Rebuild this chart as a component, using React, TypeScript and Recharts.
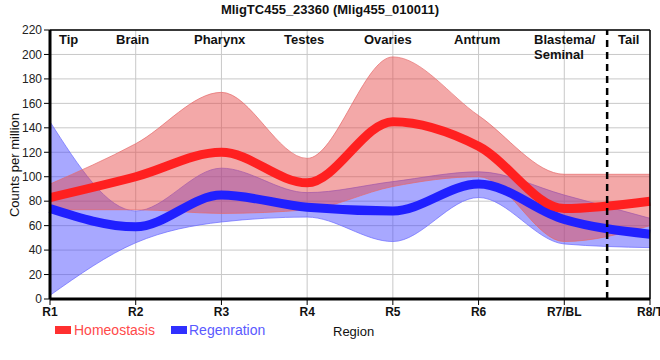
import React from "react";
import {
  ComposedChart,
  Area,
  Line,
  XAxis,
  YAxis,
  CartesianGrid,
  ReferenceLine,
} from "recharts";

// regions along the body axis
const regions = ["R1", "R2", "R3", "R4", "R5", "R6", "R7/BL", "R8/T"];
const yTicks = [0, 20, 40, 60, 80, 100, 120, 140, 160, 180, 200, 220];

// Homeostasis: mean and min/max envelope
const homeoMean = [83, 100, 120, 95, 145, 125, 74, 80];
const homeoHigh = [94, 127, 169, 115, 198, 150, 102, 102];
const homeoLow = [73, 73, 70, 73, 92, 100, 47, 60];

// Regeneration: mean and min/max envelope
const regenMean = [74, 59, 85, 75, 72, 94, 65, 53];
const regenHigh = [145, 72, 107, 87, 96, 104, 85, 66];
const regenLow = [3, 46, 63, 67, 47, 83, 45, 42];

const FONT = '"Liberation Sans", Arial, sans-serif';

const label = (text: string, left: number, top: number, extra: React.CSSProperties = {}) => (
  <div
    style={{
      position: "absolute",
      left,
      top,
      fontSize: 13,
      fontWeight: "bold",
      lineHeight: "15px",
      whiteSpace: "nowrap",
      color: "#111",
      ...extra,
    }}
  >
    {text}
  </div>
);

const App: React.FC = () => {
  const data = regions.map((r, i) => ({
    x: i,
    name: r,
    hm: homeoMean[i],
    hr: [homeoLow[i], homeoHigh[i]],
    rm: regenMean[i],
    rr: [regenLow[i], regenHigh[i]],
  }));

  return (
    <div
      style={{
        position: "absolute",
        left: 0,
        top: 0,
        width: 660,
        height: 360,
        background: "#fff",
        fontFamily: FONT,
        overflow: "hidden",
      }}
    >
      <ComposedChart
        width={660}
        height={360}
        data={data}
        margin={{ top: 30, right: 10, left: 10, bottom: 41 }}
      >
        <CartesianGrid stroke="#c8c8c8" strokeWidth={1} />
        <XAxis
          type="number"
          dataKey="x"
          domain={[0, 7]}
          ticks={[0, 1, 2, 3, 4, 5, 6, 7]}
          interval={0}
          tickFormatter={(v: number) => regions[v]}
          height={20}
          axisLine={{ stroke: "#000", strokeWidth: 3 }}
          tickLine={{ stroke: "#000" }}
          tick={{ fill: "#111", fontSize: 12, fontWeight: "bold", fontFamily: FONT }}
        />
        <YAxis
          domain={[0, 220]}
          ticks={yTicks}
          interval={0}
          width={40}
          axisLine={{ stroke: "#000", strokeWidth: 3 }}
          tickLine={{ stroke: "#000" }}
          tick={{ fill: "#222", fontSize: 12, fontFamily: FONT }}
        />
        <Area
          dataKey="rr"
          type="monotone"
          fill="#4646ff"
          fillOpacity={0.47}
          stroke="#6a6aff"
          strokeOpacity={0.7}
          isAnimationActive={false}
        />
        <Line
          dataKey="rm"
          type="monotone"
          stroke="#2020ff"
          strokeWidth={9}
          dot={false}
          activeDot={false}
          isAnimationActive={false}
        />
        <Area
          dataKey="hr"
          type="monotone"
          fill="#e64646"
          fillOpacity={0.47}
          stroke="#e66a6a"
          strokeOpacity={0.7}
          isAnimationActive={false}
        />
        <Line
          dataKey="hm"
          type="monotone"
          stroke="#ff2020"
          strokeWidth={9}
          dot={false}
          activeDot={false}
          isAnimationActive={false}
        />
        <ReferenceLine y={220} stroke="#000" strokeWidth={1.5} />
        <ReferenceLine x={7} stroke="#000" strokeWidth={1.5} />
        <ReferenceLine x={6.5} stroke="#000" strokeWidth={2.5} strokeDasharray="7 5" />
      </ComposedChart>

      {/* title */}
      <div
        style={{
          position: "absolute",
          left: 0,
          width: 660,
          top: 2,
          textAlign: "center",
          fontSize: 13,
          fontWeight: "bold",
          lineHeight: "15px",
          color: "#111",
        }}
      >
        MligTC455_23360 (Mlig455_010011)
      </div>

      {/* region names */}
      {label("Tip", 59, 32)}
      {label("Brain", 116, 32)}
      {label("Pharynx", 194, 32)}
      {label("Testes", 284, 32)}
      {label("Ovaries", 364, 32)}
      {label("Antrum", 454, 32)}
      {label("Blastema/", 534, 32)}
      {label("Seminal", 534, 47)}
      {label("Tail", 618, 32)}

      {/* y axis title */}
      <div
        style={{
          position: "absolute",
          left: 14,
          top: 165,
          transform: "translate(-50%, -50%) rotate(-90deg)",
          fontSize: 13,
          whiteSpace: "nowrap",
          color: "#111",
        }}
      >
        Counts per million
      </div>

      {/* legend */}
      <div style={{ position: "absolute", left: 55, top: 326, width: 16, height: 8, background: "#ff3030" }} />
      <div style={{ position: "absolute", left: 74, top: 322, fontSize: 14, lineHeight: "16px", color: "#ff4a4a" }}>
        Homeostasis
      </div>
      <div style={{ position: "absolute", left: 171, top: 326, width: 16, height: 8, background: "#3030ff" }} />
      <div style={{ position: "absolute", left: 189, top: 322, fontSize: 14, lineHeight: "16px", color: "#5a5aff" }}>
        Regenration
      </div>
      <div style={{ position: "absolute", left: 333, top: 324, fontSize: 13, lineHeight: "16px", color: "#111" }}>
        Region
      </div>
    </div>
  );
};

export default App;
